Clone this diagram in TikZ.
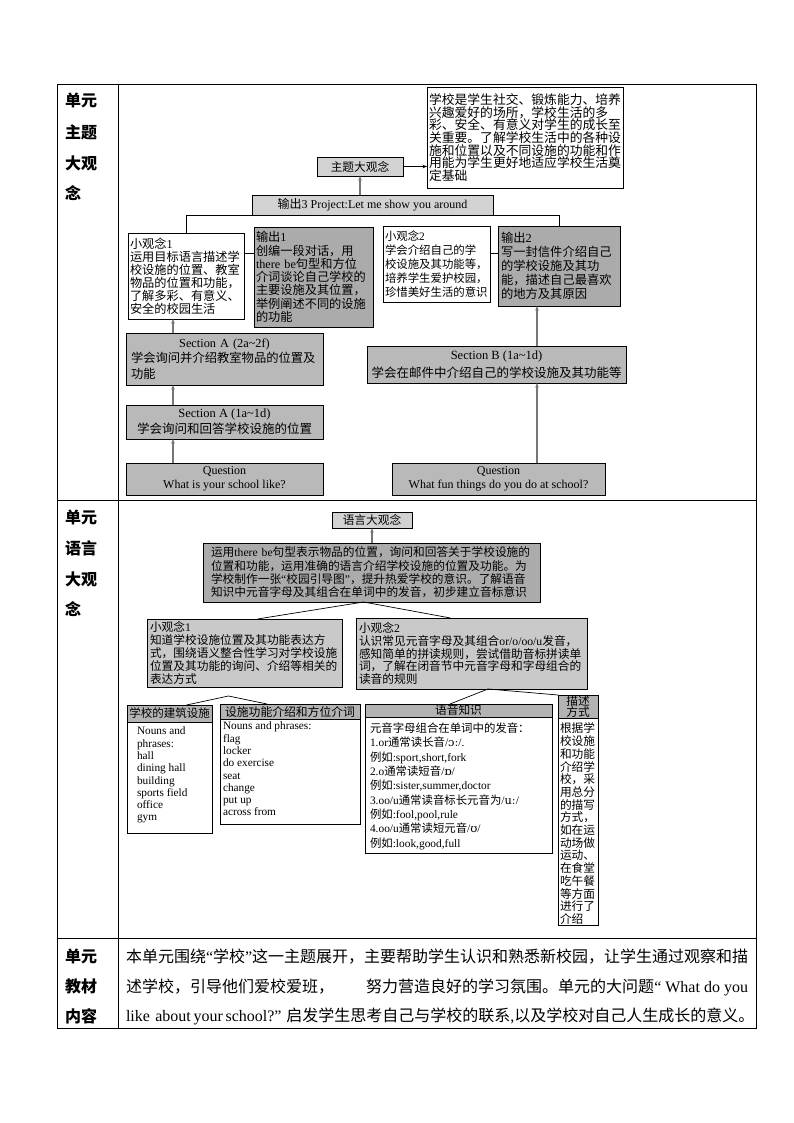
\documentclass[tikz,border=0pt]{standalone}
\usepackage{fontspec}
\setmainfont{Liberation Serif}
\newfontfamily\zh{Noto Sans CJK SC}
\newfontfamily\ipa{DejaVu Serif}
\usetikzlibrary{arrows.meta,calc,shadows}
\chardef\cjkcls=3
\makeatletter
\newcommand\setcjkrange[2]{\count@=#1\relax\loop\XeTeXcharclass\count@=\cjkcls\relax\advance\count@ by 1\relax\ifnum\count@<#2\relax\repeat}
\makeatother
\setcjkrange{"3000}{"3040}
\setcjkrange{"4E00}{"A000}
\setcjkrange{"FF00}{"FFF0}
\XeTeXinterchartokenstate=1
\XeTeXinterchartoks 0 \cjkcls = {\zh}
\XeTeXinterchartoks 4095 \cjkcls = {\zh}
\XeTeXinterchartoks \cjkcls 0 = {\rmfamily}
\XeTeXinterchartoks \cjkcls 4095 = {\rmfamily}
\newcommand\myfs[2]{\fontsize{#1}{#2}\selectfont\lineskiplimit=-30pt\relax}
\definecolor{lgray}{HTML}{D2D2D2}
\definecolor{mgray}{HTML}{B9B9B9}
\definecolor{dgray}{HTML}{ABABAB}
\definecolor{sgray}{HTML}{C9C9C9}
\definecolor{hgray}{HTML}{B3B3B3}
\definecolor{agray}{HTML}{777777}
\begin{document}
\begin{tikzpicture}[x=1pt,y=-1pt,
  box/.style={draw=black,line width=0.7pt,inner sep=0pt,outer sep=0pt,drop shadow={shadow xshift=1pt,shadow yshift=-1pt,fill=black!55,opacity=1}},
  lbl/.style={anchor=west,inner sep=0pt,font={\myfs{16}{16}\bfseries}},
  arr/.style={draw=agray,line width=1.1pt,-{Stealth[length=4.5pt,width=3.5pt]}},
  arrk/.style={draw=black,line width=0.7pt,-{Stealth[length=4.5pt,width=3.5pt]}},
  conn/.style={draw=black,line width=0.7pt},
  txt/.style={inner sep=0pt,outer sep=0pt}]
\useasboundingbox (0,0) rectangle (794,1123);
\fill[white] (0,0) rectangle (794,1123);
% table
\draw[line width=0.8pt] (57,84) rectangle (756,1028);
\draw[line width=0.8pt] (118,84) -- (118,1028);
\draw[line width=0.8pt] (57,500) -- (756,500);
\draw[line width=0.8pt] (57,938) -- (756,938);
% left labels
\node[lbl] (r1a) at (65,100) {单元};
\node[lbl] (r1b) at (65,132) {主题};
\node[lbl] (r1c) at (65,163) {大观};
\node[lbl] (r1d) at (65,193) {念};
\node[lbl] (r2a) at (65,517) {单元};
\node[lbl] (r2b) at (65,548) {语言};
\node[lbl] (r2c) at (65,579) {大观};
\node[lbl] (r2d) at (65,609) {念};
\node[lbl] (r3a) at (65,956) {单元};
\node[lbl] (r3b) at (65,986) {教材};
\node[lbl] (r3c) at (65,1016) {内容};
% ===== top section =====
\node[box,fill=white,minimum width=196,minimum height=101,text width=192,align=left,font={\myfs{12.8}{12.6}}] (tp) at (525,137.5) {学校是学生社交、锻炼能力、培养\\兴趣爱好的场所，学校生活的多\\彩、安全、有意义对学生的成长至\\关重要。了解学校生活中的各种设\\施和位置以及不同设施的功能和作\\用能为学生更好地适应学校生活奠\\定基础};
\node[box,fill=lgray,minimum width=86,minimum height=19,font={\myfs{11.7}{12}}] (zt) at (360,166.5) {主题大观念};
\node[box,fill=lgray,minimum width=241,minimum height=20,font={\myfs{12}{12}}] (o3) at (372.5,205) {输出3 Project:Let me show you around};
\node[box,fill=white,minimum width=116,minimum height=86,text width=112,align=left,font={\myfs{12.2}{13}}] (x1) at (186,276) {小观念1\\运用目标语言描述学\\校设施的位置、教室\\物品的位置和功能，\\了解多彩、有意义、\\安全的校园生活};
\node[box,fill=dgray,minimum width=119,minimum height=100,text width=115,align=left,font={\myfs{12.2}{13.3}}] (y1) at (313.5,277) {输出1\\创编一段对话，用\\there~be句型和方位\\介词谈论自己学校的\\主要设施及其位置，\\举例阐述不同的设施\\的功能};
\node[box,fill=white,minimum width=107,minimum height=76,text width=103,align=left,font={\myfs{11.4}{14}}] (x2) at (436.5,264) {小观念2\\学会介绍自己的学\\校设施及其功能等，\\培养学生爱护校园，\\珍惜美好生活的意识};
\node[box,fill=dgray,minimum width=122,minimum height=80,text width=116,align=left,font={\myfs{12.3}{14}}] (o2) at (559,266) {输出2\\写一封信件介绍自己\\的学校设施及其功\\能，描述自己最喜欢\\的地方及其原因};
\node[box,fill=mgray,minimum width=197,minimum height=52,text width=187,align=left,font={\myfs{12.3}{15.5}}] (sa2) at (224.5,359) {\makebox[187pt]{Section A (2a\textasciitilde 2f)}\\学会询问并介绍教室物品的位置及\\功能};
\node[box,fill=mgray,minimum width=197,minimum height=34,align=center,font={\myfs{12.5}{16}}] (sa1) at (224.5,422) {Section A (1a\textasciitilde 1d)\\学会询问和回答学校设施的位置};
\node[box,fill=mgray,minimum width=197,minimum height=32,align=center,font={\myfs{12}{14}}] (q1) at (224.5,479) {Question\\What is your school like?};
\node[box,fill=mgray,minimum width=259,minimum height=37,align=center,font={\myfs{12.5}{18}}] (sb) at (496.5,364.5) {Section B (1a\textasciitilde 1d)\\学会在邮件中介绍自己的学校设施及其功能等};
\node[box,fill=mgray,minimum width=213,minimum height=32,align=center,font={\myfs{12}{14}}] (q2) at (498.5,479) {Question\\What fun things do you do at school?};
% top connectors
\draw[arrk] (zt.east) -- (zt.east -| tp.west);
\draw[arr] (o3.north -| zt.south) -- (zt.south);
\draw[conn] (x1.north) |- (o3.south) -| (o2.north);
\coordinate (c1) at ($(x1.north east)+(0,20)$);
\draw[conn] (c1) -- (c1 -| y1.west);
\coordinate (c2) at ($(x2.north east)+(0,27)$);
\draw[conn] (c2) -- (c2 -| o2.west);
\coordinate (ac) at ($(x1.south)+(-13,0)$);
\draw[arr] (ac |- sa2.north) -- (ac);
\draw[arr] (ac |- sa1.north) -- (ac |- sa2.south);
\draw[arr] (ac |- q1.north) -- (ac |- sa1.south);
\coordinate (bc) at ($(o2.south)+(-22,0)$);
\draw[arr] (bc |- sb.north) -- (bc);
\draw[arr] (bc |- q2.north) -- (bc |- sb.south);
% ===== middle section =====
\node[box,fill=lgray,minimum width=80,minimum height=16,font={\myfs{11.7}{12}}] (lg) at (372,520) {语言大观念};
\node[box,fill=dgray,minimum width=337,minimum height=59,text width=321,align=left,font={\myfs{11.7}{13.3}}] (bg) at (371.5,572.5) {运用there~be句型表示物品的位置，询问和回答关于学校设施的\\位置和功能，运用准确的语言介绍学校设施的位置及功能。为\\学校制作一张“校园引导图”，提升热爱学校的意识。了解语音\\知识中元音字母及其组合在单词中的发音，初步建立音标意识};
\node[box,fill=sgray,minimum width=195,minimum height=68,text width=189,align=left,font={\myfs{11.7}{12.9}}] (s1) at (244.5,653) {小观念1\\知道学校设施位置及其功能表达方\\式，围绕语义整合性学习对学校设施\\位置及其功能的询问、介绍等相关的\\表达方式};
\node[box,fill=sgray,minimum width=231,minimum height=71,text width=225,align=left,font={\myfs{11.7}{12.9}}] (s2) at (471.5,653.5) {小观念2\\认识常见元音字母及其组合or/o/oo/u发音，\\感知简单的拼读规则，尝试借助音标拼读单\\词，了解在闭音节中元音字母和字母组合的\\读音的规则};
% bottom boxes
\node[box,fill=white,minimum width=85,minimum height=128,anchor=north west] (b1) at (127,705) {};
\node[box,fill=hgray,drop shadow={opacity=0},minimum width=85,minimum height=17,anchor=north,font={\myfs{11.5}{12}}] (b1h) at (b1.north) {学校的建筑设施};
\node[txt,anchor=north west,align=left,font={\myfs{11.3}{12.3}}] (b1t) at (137,727) {Nouns and\\phrases:\\hall\\dining hall\\building\\sports field\\office\\gym};
\node[box,fill=white,minimum width=140,minimum height=120,anchor=north west] (b2) at (220,704) {};
\node[box,fill=hgray,drop shadow={opacity=0},minimum width=140,minimum height=15,anchor=north,font={\myfs{11.8}{12}}] (b2h) at (b2.north) {设施功能介绍和方位介词};
\node[txt,anchor=north west,align=left,font={\myfs{11.3}{12.3}}] (b2t) at (223,722) {Nouns and phrases:\\flag\\locker\\do exercise\\seat\\change\\put up\\across from};
\node[box,fill=white,minimum width=187,minimum height=149,anchor=north west] (b3) at (365,704) {};
\node[box,fill=hgray,drop shadow={opacity=0},minimum width=187,minimum height=13,anchor=north,font={\myfs{11.7}{12}}] (b3h) at (b3.north) {语音知识};
\node[txt,anchor=north west,align=left,font={\myfs{11.4}{14.3}}] (b3t) at (370,723) {元音字母组合在单词中的发音：\\1.or通常读长音/{\ipa ɔː}/.\\例如:sport,short,fork\\2.o通常读短音/{\ipa ɒ}/\\例如:sister,summer,doctor\\3.oo/u通常读音标长元音为/{\ipa uː}/\\例如:fool,pool,rule\\4.oo/u通常读短元音/{\ipa ʊ}/\\例如:look,good,full};
\node[box,fill=white,minimum width=40,minimum height=230,anchor=north west] (b4) at (558,695) {};
\node[box,fill=hgray,drop shadow={opacity=0},minimum width=40,minimum height=23,anchor=north,align=center,font={\myfs{11.7}{11.5}}] (b4h) at (b4.north) {描述\\方式};
\node[txt,anchor=north west,align=left,font={\myfs{11.7}{12.7}}] (b4t) at (560,723) {根据学\\校设施\\和功能\\介绍学\\校，采\\用总分\\的描写\\方式，\\如在运\\动场做\\运动、\\在食堂\\吃午餐\\等方面\\进行了\\介绍};
% middle connectors
\draw[arr] (bg.north -| lg.south) -- (lg.south);
\coordinate (bgp) at ($(bg.south)+(-8,0)$);
\draw[conn] (bgp) -- ($(s1.north)+(13,0)$);
\draw[conn] (bgp) -- ($(s2.north)+(-21,0)$);
\coordinate (p1) at ($(s1.south)+(-16,9)$);
\draw[conn] ($(b1.north)+(17,0)$) -- (p1) -- ($(b2.north)+(-23,0)$);
\coordinate (p2) at ($(s2.south)+(16.5,0)$);
\draw[conn] ($(b3.north)+(-8.5,0)$) -- (p2) -- (b4.north west);
% ===== bottom row =====
\node[txt,anchor=west,font={\myfs{16}{16}}] (m1) at (126,957) {\hbox to 622pt{本单元围绕“学校”这一主题展开，主要帮助学生认识和熟悉新校园，让学生通过观察和描\hss}};
\node[txt,anchor=west,font={\myfs{16}{16}}] (m2) at (126,987) {\hbox to 622pt{述学校，引导他们爱校爱班，\hskip 1.2em plus 1fil 努力营造良好的学习氛围。单元的大问题“ What do you}};
\node[txt,anchor=west,font={\myfs{16}{16}}] (m3) at (126,1016) {\hbox to 622pt{like\ \ about your school?” 启发学生思考自己与学校的联系,以及学校对自己人生成长的意义。}};
\end{tikzpicture}
\end{document}
